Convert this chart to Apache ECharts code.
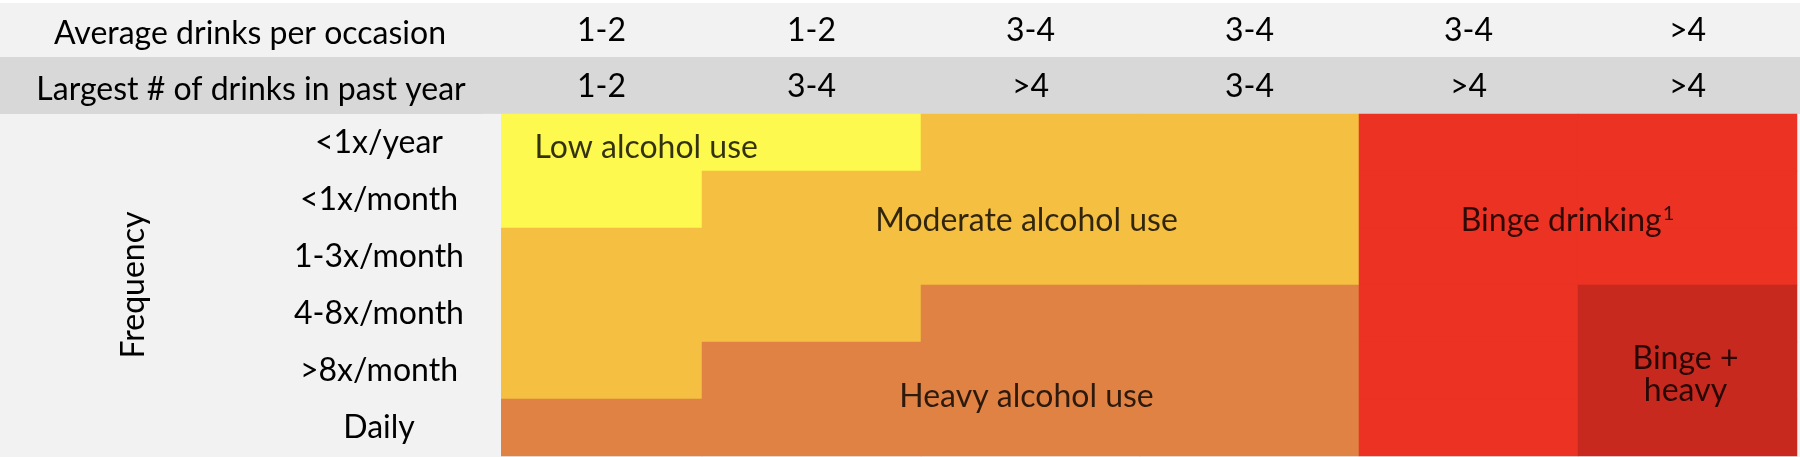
<!DOCTYPE html>
<html><head><meta charset="utf-8">
<script src="https://cdn.jsdelivr.net/npm/echarts@6/dist/echarts.min.js"></script>
<style>html,body{margin:0;padding:0;background:#f2f2f2}#c{width:1800px;height:457px}</style>
</head><body><div id="c"></div>
<script>
// ---- data ----
const avgDrinks = ['1-2', '1-2', '3-4', '3-4', '3-4', '>4'];
const largestDrinks = ['1-2', '3-4', '>4', '3-4', '>4', '>4'];
const frequencies = ['<1x/year', '<1x/month', '1-3x/month', '4-8x/month', '>8x/month', 'Daily'];
const useLevels = ['Low alcohol use', 'Moderate alcohol use', 'Heavy alcohol use', 'Binge drinking', 'Binge +\nheavy'];
const footnoteMarks = ['', '', '', '1', ''];
// level index per frequency row (top→bottom) and drinking column (left→right)
const levelGrid = [
  [0, 0, 1, 1, 3, 3],
  [0, 1, 1, 1, 3, 3],
  [1, 1, 1, 1, 3, 3],
  [1, 1, 2, 2, 3, 4],
  [1, 2, 2, 2, 3, 4],
  [2, 2, 2, 2, 3, 4]
];
// cell each region's label is anchored to: [column, row]
const labelCells = [[0, 0], [2, 1], [2, 4], [4, 1], [5, 4]];
const rowHeaders = ['Average drinks per occasion', 'Largest # of drinks in past year'];
const axisTitle = 'Frequency';

// ---- styles ----
const FONT = 'Lato';
const FS = 32;
const INK = '#000';
const levelColors = ['#fef94e', '#f5bf42', '#e08244', '#eb3223', '#c8291f'];
const labelStyles = [
  { align: 'left', offset: [-58, 5] },
  { align: 'center', offset: [-4, 21] },
  { align: 'center', offset: [-4, 26] },
  { align: 'center', offset: [99, 21] },
  { align: 'center', offset: [-2, 4], lineHeight: 32 }
];

const cells = [];
levelGrid.forEach((row, r) => row.forEach((lv, c) => cells.push([c, r, lv])));

const labelData = labelCells.map((cell, i) => ({
  name: useLevels[i],
  value: cell,
  label: Object.assign({
    formatter: footnoteMarks[i] ? '{m|' + useLevels[i] + '}{s|' + footnoteMarks[i] + '}' : '{m|' + useLevels[i].split('\n').join('}\n{m|') + '}'
  }, labelStyles[i])
}));

const txt = { fontFamily: FONT, fontSize: FS, color: INK };
const catItems = (arr) => arr.map((v, i) => i === 0
  ? { value: v, textStyle: Object.assign({ padding: [0, 0, 0, 18], verticalAlign: 'middle' }, txt) } : v);

const chart = echarts.init(document.getElementById('c'), null, { renderer: 'canvas' });

chart.setOption({
  backgroundColor: '#f2f2f2',
  animation: false,
  grid: { left: 483, top: 114, width: 1314, height: 342 },
  xAxis: [
    {
      type: 'category', position: 'top', data: catItems(largestDrinks), z: 10,
      axisLine: { show: false }, axisTick: { show: false }, splitLine: { show: false },
      axisLabel: Object.assign({ margin: 27, verticalAlign: 'middle', interval: 0 }, txt)
    },
    {
      type: 'category', position: 'top', offset: 57, data: catItems(avgDrinks), z: 10,
      axisLine: { show: false }, axisTick: { show: false }, splitLine: { show: false },
      axisLabel: Object.assign({ margin: 26, verticalAlign: 'middle', interval: 0 }, txt)
    }
  ],
  yAxis: {
    type: 'category', inverse: true, data: frequencies, z: 10,
    axisLine: { show: false }, axisTick: { show: false }, splitLine: { show: false },
    axisLabel: Object.assign({ margin: 104, align: 'center', interval: 0 }, txt),
    name: axisTitle, nameLocation: 'middle', nameRotate: 90, nameGap: 333,
    nameTextStyle: txt
  },
  visualMap: {
    show: false, type: 'piecewise', dimension: 2, seriesIndex: 0,
    pieces: levelColors.map((col, i) => ({ value: i, color: col }))
  },
  graphic: [
    { type: 'rect', z: 1, shape: { x: 0, y: 57, width: 1800, height: 57 }, style: { fill: '#d8d8d8' } },
    { type: 'rect', z: 1, shape: { x: 0, y: 0, width: 1800, height: 3 }, style: { fill: '#ffffff' } },
    { type: 'rect', z: 5, shape: { x: 0, y: 114, width: 501, height: 343 }, style: { fill: '#f2f2f2' } },
    { type: 'text', z: 10, x: 250, y: 34, style: { text: rowHeaders[0], font: FS + 'px ' + FONT, fill: INK, align: 'center', verticalAlign: 'middle' } },
    { type: 'text', z: 10, x: 251, y: 90, style: { text: rowHeaders[1], font: FS + 'px ' + FONT, fill: INK, align: 'center', verticalAlign: 'middle' } }
  ],
  series: [
    {
      type: 'heatmap', data: cells, progressive: 0,
      itemStyle: { borderWidth: 0 },
      emphasis: { disabled: true }
    },
    {
      type: 'scatter', data: labelData, symbolSize: 0, z: 6, silent: true,
      label: Object.assign({
        show: true, position: 'inside',
        rich: {
          m: { fontFamily: FONT, fontSize: FS, color: INK, lineHeight: 32 },
          s: { fontFamily: FONT, fontSize: 20, color: INK, padding: [0, 0, 14, 1] }
        }
      }, txt)
    }
  ]
});
</script></body></html>
